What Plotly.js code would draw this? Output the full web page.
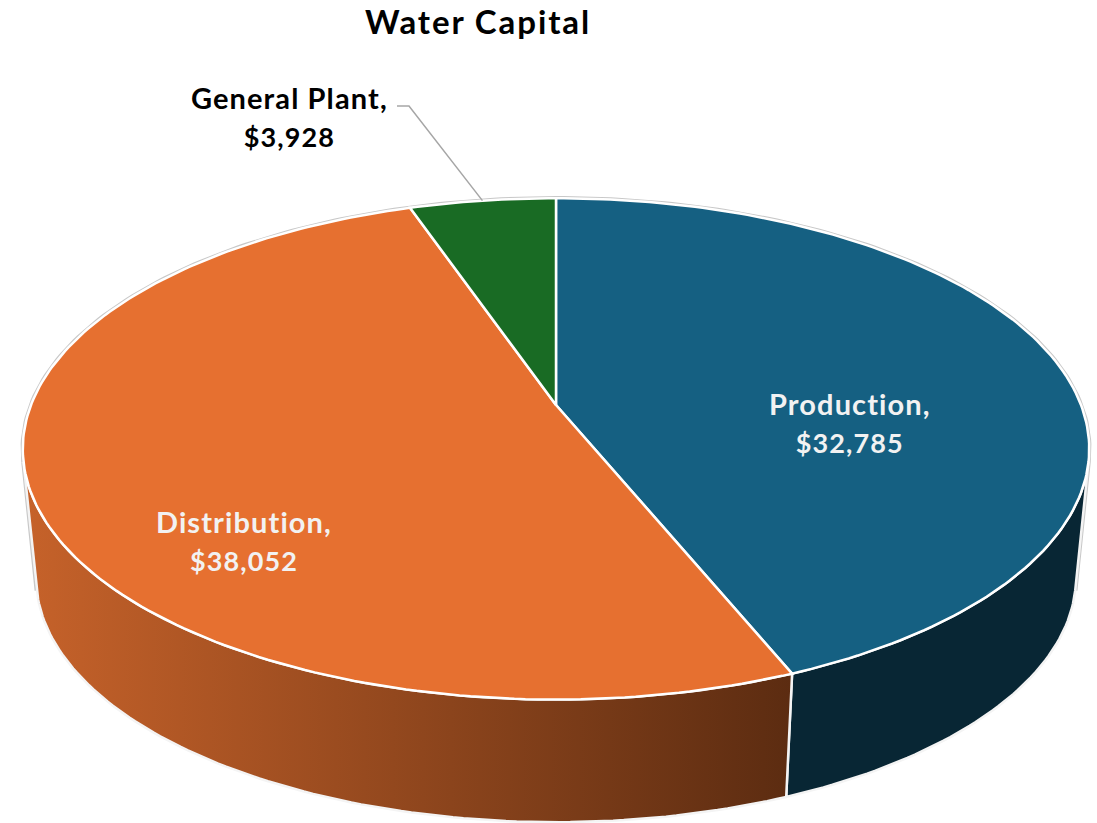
<!DOCTYPE html>
<html>
<head>
<meta charset="utf-8">
<title>Water Capital</title>
<script src="https://cdn.plot.ly/plotly-3.0.1.min.js"></script>
<style>
  html, body { margin: 0; padding: 0; background: #fff; }
  #chart { width: 1097px; height: 823px; }
  .annotation-text { letter-spacing: 1.1px; }
  .gtitle { letter-spacing: 1.9px; }
</style>
</head>
<body>
<div id="chart"></div>
<script>
// Capital by category, in the order the slices run clockwise from 12 o'clock
const categories = ['Production', 'Distribution', 'General Plant'];
const capitalValues = [32785, 38052, 3928];

const faceColors = ['#156082', '#E67030', '#196B24'];
const wallGradients = [
  [[0, '#082634'], [1, '#082634']],
  [[0, '#C6622A'], [1, '#5C2C11']],
  null
];

// Perspective of the tilted disc, in pixels on the hidden axes
const view = {
  cx: 556, cy: 405,
  a: 525, b: 243, k: 0.175,   // disc half-axes and foreshortening
  floorDrop: 130, floorScale: 0.975,  // lower rim of the cylinder
  wallFrom: 103, wallTo: 257          // angles where the side wall is visible
};

// Angle is measured clockwise from the top of the disc
function rimPoint(deg, lower) {
  const t = deg * Math.PI / 180;
  const u = Math.sin(t), v = Math.cos(t);
  const d = 1 + view.k * v;
  const s = lower ? view.floorScale : 1;
  const top = lower ? view.cy + view.floorDrop : view.cy;
  return [view.cx + s * view.a * u / d, top - s * view.b * v / d];
}

function arc(from, to, lower) {
  const pts = [];
  const n = Math.max(2, Math.ceil(Math.abs(to - from)));
  for (let i = 0; i <= n; i++) pts.push(rimPoint(from + (to - from) * i / n, lower));
  return pts;
}

function polyTrace(points, extra) {
  return Object.assign({
    type: 'scatter', mode: 'lines', fill: 'toself',
    x: points.map(p => p[0]), y: points.map(p => p[1]),
    hoverinfo: 'skip', showlegend: false
  }, extra);
}

const total = capitalValues.reduce((a, b) => a + b, 0);
const spans = [];
capitalValues.reduce((start, value) => {
  const end = start + value / total * 360;
  spans.push([start, end]);
  return end;
}, 0);

const traces = [];

// Grey hairline round the whole silhouette, showing just outside the slices
const silhouette = arc(view.wallTo, 360 + view.wallFrom, false)
  .concat(arc(360 + view.wallFrom, view.wallTo, true));
silhouette.push(silhouette[0]);
traces.push(polyTrace(silhouette, {
  fillcolor: '#ffffff', line: { color: '#c8c8c8', width: 4.5 }
}));

// Side walls of the slices facing the viewer
spans.forEach((span, i) => {
  const from = Math.max(span[0], view.wallFrom);
  const to = Math.min(span[1], view.wallTo);
  if (from >= to || !wallGradients[i]) return;
  const pts = arc(from, to, false).concat(arc(to, from, true));
  pts.push(pts[0]);
  traces.push(polyTrace(pts, {
    fillcolor: wallGradients[i][0][1],
    fillgradient: { type: 'horizontal', colorscale: wallGradients[i] },
    line: { color: '#f4f4f4', width: 2.5 }
  }));
});

// Top faces
spans.forEach((span, i) => {
  const apex = [view.cx, view.cy];
  const pts = [apex].concat(arc(span[0], span[1], false), [apex]);
  traces.push(polyTrace(pts, {
    fillcolor: faceColors[i],
    line: { color: '#ffffff', width: 2.5 },
    name: categories[i]
  }));
});

// Leader line from the General Plant label to the rim of its slice
const leaderIndex = categories.indexOf('General Plant');
const leaderEnd = rimPoint((spans[leaderIndex][0] + spans[leaderIndex][1]) / 2, false);
traces.push({
  type: 'scatter', mode: 'lines',
  x: [397, 409, leaderEnd[0]], y: [106, 106, leaderEnd[1]],
  line: { color: '#a6a6a6', width: 1.5 },
  hoverinfo: 'skip', showlegend: false
});

const money = v => '$' + v.toLocaleString('en-US');
const labelSpots = [
  { x: 850, y: 422, color: '#f2f2f2' },
  { x: 244, y: 540, color: '#f2f2f2' },
  { x: 289, y: 116, color: '#000000' }
];
const labelFont = 'Lato, Carlito, sans-serif';

const annotations = categories.map((name, i) => ({
  xref: 'x', yref: 'y', x: labelSpots[i].x, y: labelSpots[i].y,
  xanchor: 'center', yanchor: 'middle', align: 'center', showarrow: false,
  text: '<b>' + name + ',<br><span style="font-size:27px">' + money(capitalValues[i]) + '</span></b>',
  font: { family: labelFont, size: 29, color: labelSpots[i].color }
}));

const layout = {
  width: 1097, height: 823,
  margin: { l: 0, r: 0, t: 0, b: 0 },
  paper_bgcolor: '#ffffff', plot_bgcolor: '#ffffff',
  showlegend: false,
  title: {
    text: '<b>Water Capital</b>',
    font: { family: labelFont, size: 33, color: '#000000' },
    x: 478 / 1097, xanchor: 'center', xref: 'paper',
    y: 1 - 22 / 823, yanchor: 'middle', yref: 'paper'
  },
  xaxis: { range: [0, 1097], visible: false, fixedrange: true },
  yaxis: { range: [823, 0], visible: false, fixedrange: true },
  annotations: annotations
};

Plotly.newPlot('chart', traces, layout, { displayModeBar: false, staticPlot: true });
</script>
</body>
</html>
